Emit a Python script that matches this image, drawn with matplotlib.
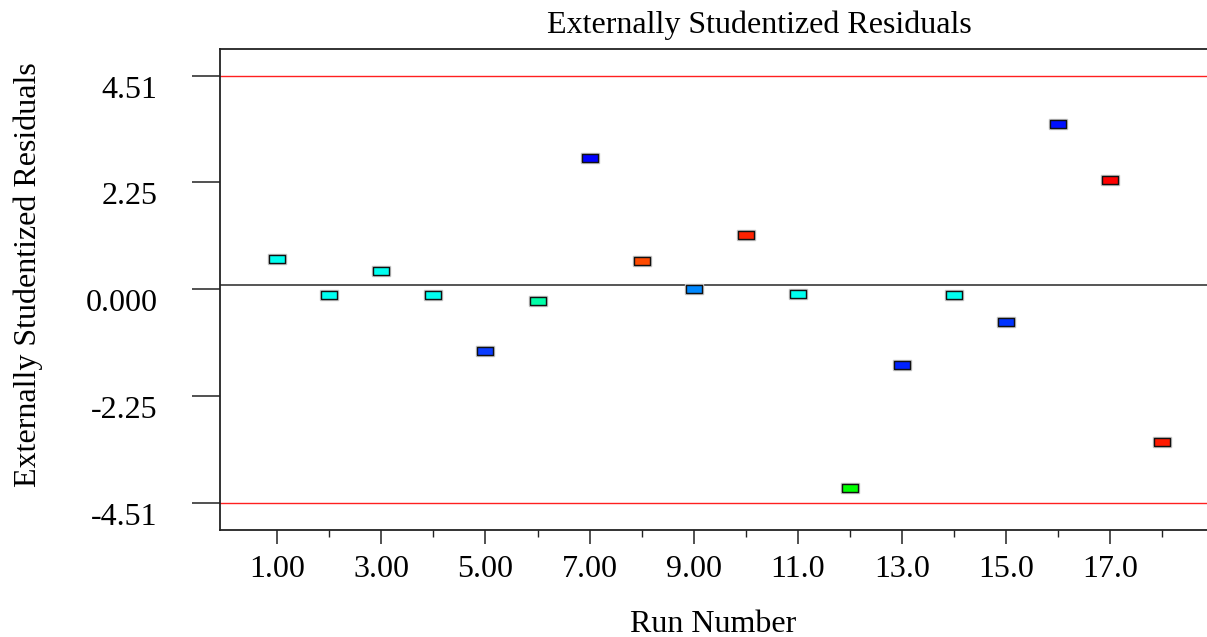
import matplotlib
matplotlib.use("Agg")
import matplotlib.pyplot as plt
from matplotlib.ticker import FixedLocator

# Run order and externally studentized residual for each run
runs = list(range(1, 19))
residuals = [0.64, -0.13, 0.38, -0.13, -1.30, -0.25, 2.78, 0.59, 0.01,
             1.15, -0.10, -4.19, -1.60, -0.12, -0.70, 3.48, 2.30, -3.22]
point_colors = ["#00fff0", "#00fff0", "#00fff0", "#00fff0", "#0a3cff",
                "#00ffa8", "#0000ff", "#ff4a00", "#0088ff", "#ff2200",
                "#00fff0", "#00ff00", "#0022ff", "#00fff0", "#0033ff",
                "#0010ff", "#ff0000", "#ff1a00"]

# Outlier limits and reference level
limit = 4.51
center_level = 0.09

y_ticks = [-4.51, -2.255, 0.0, 2.255, 4.51]
y_tick_labels = ["-4.51", "-2.25", "0.000", "2.25", "4.51"]
x_major = [1, 3, 5, 7, 9, 11, 13, 15, 17]
x_major_labels = ["1.00", "3.00", "5.00", "7.00", "9.00", "11.0", "13.0", "15.0", "17.0"]
x_minor = [2, 4, 6, 8, 10, 12, 14, 16, 18]

W, H = 1207, 637
plt.rcParams["font.family"] = ["Liberation Serif", "DejaVu Serif"]
FS = 23

fig = plt.figure(figsize=(W / 100, H / 100), dpi=100)
ax = fig.add_axes([220 / W, (H - 530) / H, 995 / W, (530 - 48.7) / H])

ax.set_xlim(-0.10, 19.015)
ax.set_ylim(-5.087, 5.08)

# limit lines and center line
ax.axhline(limit, color="#ff2020", lw=1.0, zorder=1)
ax.axhline(-limit, color="#ff2020", lw=1.0, zorder=1)
ax.axhline(center_level, color="#555555", lw=1.4, zorder=1)

# wide rectangular markers with a faint grey rim
rect = [(-8.5, -4.5), (8.5, -4.5), (8.5, 4.5), (-8.5, 4.5), (-8.5, -4.5)]
for r, v, c in zip(runs, residuals, point_colors):
    ax.plot([r], [v], linestyle="none", marker=rect, markersize=13.0,
            markerfacecolor="none", markeredgecolor="#c4c4c4",
            markeredgewidth=1.0, zorder=2)
    ax.plot([r], [v], linestyle="none", marker=rect, markersize=12.0,
            markerfacecolor=c, markeredgecolor="#111111",
            markeredgewidth=1.0, zorder=3)

# axes frame
for side in ("left", "top", "bottom", "right"):
    ax.spines[side].set_color("#222222")
    ax.spines[side].set_linewidth(1.3)

ax.set_yticks(y_ticks)
ax.set_yticklabels(y_tick_labels, va="top")
ax.tick_params(axis="y", direction="out", length=20, width=1.1,
               color="#222222", pad=25, labelsize=FS)

ax.xaxis.set_major_locator(FixedLocator(x_major))
ax.set_xticklabels(x_major_labels)
ax.xaxis.set_minor_locator(FixedLocator(x_minor))
ax.tick_params(axis="x", which="major", direction="out", length=9.8,
               width=1.1, color="#222222", pad=8.5, labelsize=FS)
ax.tick_params(axis="x", which="minor", direction="out", length=4.8,
               width=1.0, color="#222222")

fig.text(759 / W, 1 - 33.3 / H, "Externally Studentized Residuals",
         ha="center", va="baseline", fontsize=FS)
fig.text(713 / W, 1 - 631.7 / H, "Run Number",
         ha="center", va="baseline", fontsize=FS)
fig.text(28 / W, 1 - 275 / H, "Externally Studentized Residuals",
         ha="center", va="center", rotation=90, fontsize=FS)

fig.savefig("out.png", dpi=100, facecolor="white")
